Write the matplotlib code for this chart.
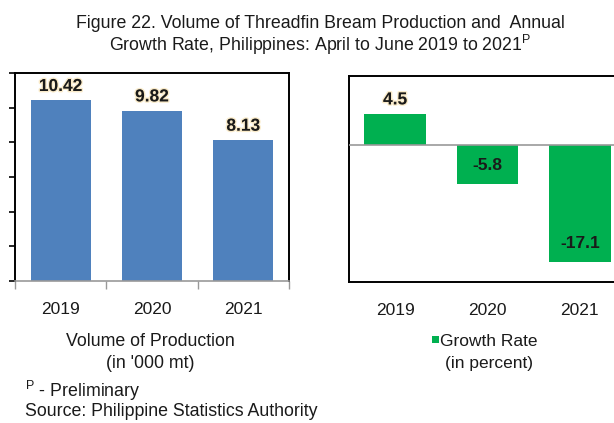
import matplotlib
matplotlib.use("Agg")
import matplotlib.pyplot as plt
import matplotlib.patheffects as pe
from matplotlib.patches import Rectangle

years = ["2019", "2020", "2021"]
production = [10.42, 9.82, 8.13]
growth = [4.5, -5.8, -17.1]
prod_labels = ["10.42", "9.82", "8.13"]
growth_labels = ["4.5", "-5.8", "-17.1"]

plt.rcParams['font.family'] = ['Liberation Sans', 'DejaVu Sans']
plt.rcParams['mathtext.fontset'] = 'custom'
plt.rcParams['mathtext.rm'] = 'Liberation Sans'
plt.rcParams['mathtext.it'] = 'Liberation Sans:italic'
plt.rcParams['mathtext.bf'] = 'Liberation Sans:bold'

W, H = 614, 423
fig = plt.figure(figsize=(W / 100, H / 100), dpi=100)
fig.patch.set_facecolor('white')

def fx(px):
    return px / W

def fy(py):
    return 1 - py / H

blue = '#4F81BD'
green = '#00B050'
txt = '#1a1a1a'
glow = [pe.withStroke(linewidth=2, foreground='#f7dfa8', alpha=0.6)]
fs = 12.8

# Left panel
ax1 = fig.add_axes([fx(15), fy(281), fx(289 - 15), (281 - 73) / H])
x = range(len(years))
ax1.bar(x, production, width=0.66, color=blue)
ax1.set_xlim(-0.5, 2.5)
ax1.set_ylim(0, 12)
ax1.set_yticks([0, 2, 4, 6, 8, 10, 12])
ax1.tick_params(axis='y', direction='out', length=4, width=1.2, color='black', labelleft=False)
ax1.set_xticks(list(x))
ax1.set_xticklabels(years, fontsize=12.5, color=txt)
ax1.tick_params(axis='x', which='major', length=0, pad=15)
ax1.set_xticks([-0.5, 0.5, 1.5, 2.5], minor=True)
ax1.tick_params(axis='x', which='minor', direction='out', length=6, width=1, color='#999999')
for s in ['left', 'top', 'right']:
    ax1.spines[s].set_color('black')
    ax1.spines[s].set_linewidth(1.4)
ax1.spines['bottom'].set_color('#999999')
ax1.spines['bottom'].set_linewidth(1.2)
for xi, v, lab in zip(x, production, prod_labels):
    ax1.annotate(lab, (xi, v), xytext=(0, 10), textcoords='offset points',
                 ha='center', va='center', fontsize=12.5, fontweight='bold',
                 color=txt, path_effects=glow)

# Right panel
ax2 = fig.add_axes([fx(349), fy(282), fx(277), (282 - 76) / H])
ax2.bar(x, growth, width=0.67, color=green, zorder=2)
ax2.set_xlim(-0.5, 2.5)
ax2.set_ylim(-20, 10)
ax2.axhline(0, color='#999999', linewidth=1.2, zorder=3)
ax2.set_yticks([])
ax2.set_xticks(list(x))
ax2.set_xticklabels(years, fontsize=12.5, color=txt)
ax2.tick_params(axis='x', length=0, pad=15)
for s in ax2.spines.values():
    s.set_color('black')
    s.set_linewidth(1.4)
for xi, v, lab in zip(x, growth, growth_labels):
    off = 10 if v >= 0 else 13.5
    ax2.annotate(lab, (xi, v), xytext=(0, off), textcoords='offset points',
                 ha='center', va='center', fontsize=12.5, fontweight='bold',
                 color=txt, zorder=4, path_effects=glow if v >= 0 else None)

# Title
fig.text(fx(320), fy(24), "Figure 22. Volume of Threadfin Bream Production and  Annual",
         ha='center', va='center', fontsize=fs, color=txt)
fig.text(fx(320), fy(45), r"Growth Rate, Philippines: April to June 2019 to 2021$^{\mathrm{P}}$",
         ha='center', va='center', fontsize=fs, color=txt)

# Axis captions
fig.text(fx(150), fy(342), "Volume of Production", ha='center', va='center', fontsize=fs, color=txt)
fig.text(fx(150), fy(363), "(in '000 mt)", ha='center', va='center', fontsize=fs, color=txt)
fig.patches.append(Rectangle((fx(432), fy(343)), fx(6.5), 7 / H, transform=fig.transFigure,
                             facecolor=green, edgecolor='none'))
fig.text(fx(440), fy(341), "Growth Rate", ha='left', va='center', fontsize=12.5, color=txt)
fig.text(fx(489), fy(363), "(in percent)", ha='center', va='center', fontsize=12.5, color=txt)

# Footnotes
fig.text(fx(25), fy(391), r"$^{\mathrm{P}}$ - Preliminary", ha='left', va='center', fontsize=fs, color=txt)
fig.text(fx(25), fy(411), "Source: Philippine Statistics Authority", ha='left', va='center', fontsize=fs, color=txt)

fig.savefig("out.png", dpi=100, facecolor='white')
